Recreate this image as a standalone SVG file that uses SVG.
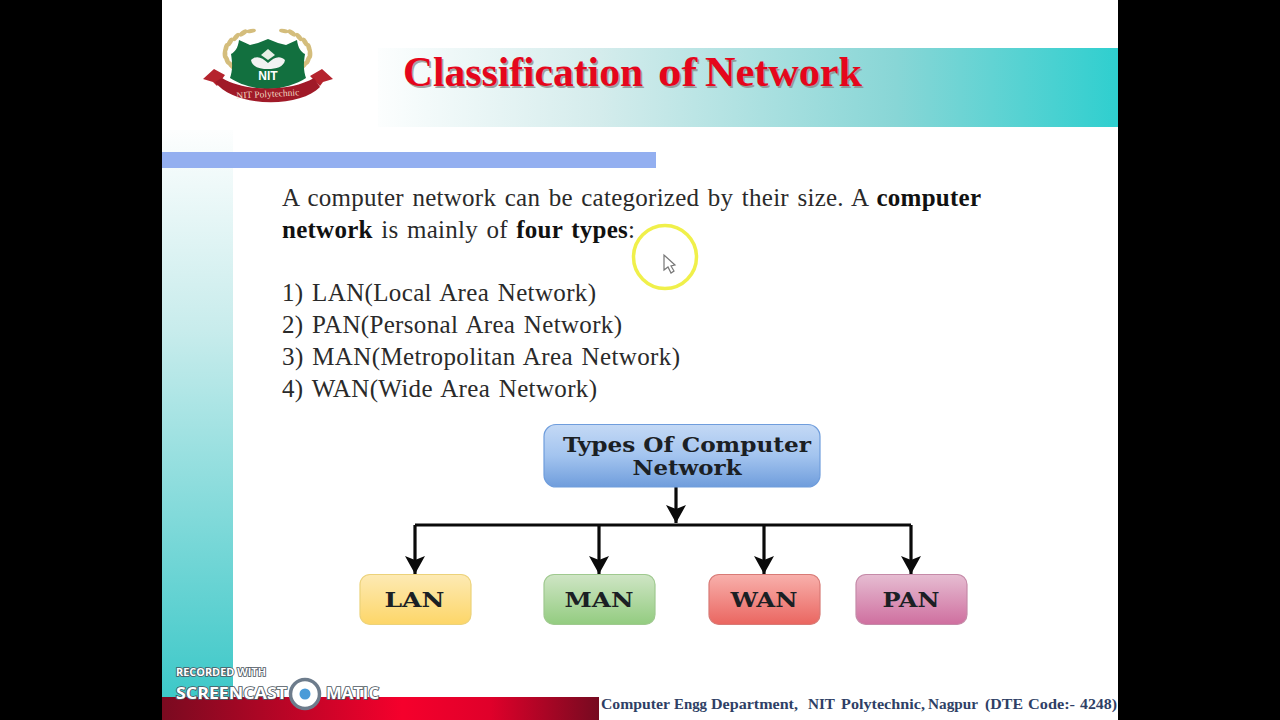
<svg xmlns="http://www.w3.org/2000/svg" width="1280" height="720" viewBox="0 0 1280 720">
<style>
.body{font-family:"Liberation Serif",serif;font-size:25px;fill:#2a2a2a;word-spacing:2px;}
.b{font-weight:bold;fill:#111;}
.lbl{font-family:"DejaVu Serif",serif;font-weight:bold;font-size:20px;fill:#1b2024;text-anchor:middle;}
.node{stroke-width:1.2;}
.conn{stroke:#0a0a0a;stroke-width:3.2;fill:none;stroke-linejoin:round;}
.wm{font-family:"Open Sans",sans-serif;font-weight:bold;fill:#fff;stroke:#4c5660;stroke-width:1.600px;paint-order:stroke;}
.leaf{fill:#d4bd7c;}
.ttl{font-family:"Liberation Serif",serif;font-weight:bold;font-size:42px;}
.ft{font-family:"Liberation Serif",serif;font-weight:bold;font-size:15px;fill:#2f3f66;}
</style>
<defs>
<linearGradient id="hd" x1="0" x2="1" y1="0" y2="0"><stop offset="0" stop-color="#fcfefe"/><stop offset=".3" stop-color="#d4ecec"/><stop offset=".7" stop-color="#88d6d6"/><stop offset="1" stop-color="#2fcfcf"/></linearGradient>
<linearGradient id="side" x1="0" x2="0" y1="0" y2="1"><stop offset="0" stop-color="#fdfefe"/><stop offset=".35" stop-color="#c8ecec"/><stop offset="1" stop-color="#3cc8c8"/></linearGradient>
<linearGradient id="red" x1="0" x2="1" y1="0" y2="0"><stop offset="0" stop-color="#7a0a20"/><stop offset=".55" stop-color="#f5002c"/><stop offset=".75" stop-color="#e0002a"/><stop offset="1" stop-color="#760a20"/></linearGradient>
<linearGradient id="gB" x1="0" x2="0" y1="0" y2="1"><stop offset="0" stop-color="#c4d9f5"/><stop offset=".5" stop-color="#a3c4ef"/><stop offset="1" stop-color="#6f9ddc"/></linearGradient>
<linearGradient id="gY" x1="0" x2="0" y1="0" y2="1"><stop offset="0" stop-color="#fdeab4"/><stop offset="1" stop-color="#fdd668"/></linearGradient>
<linearGradient id="gG" x1="0" x2="0" y1="0" y2="1"><stop offset="0" stop-color="#cfe5c5"/><stop offset="1" stop-color="#93cc80"/></linearGradient>
<linearGradient id="gR" x1="0" x2="0" y1="0" y2="1"><stop offset="0" stop-color="#f8b0ac"/><stop offset="1" stop-color="#ea6660"/></linearGradient>
<linearGradient id="gP" x1="0" x2="0" y1="0" y2="1"><stop offset="0" stop-color="#e6bdd2"/><stop offset="1" stop-color="#cf6f9f"/></linearGradient>
<marker id="arr" markerUnits="userSpaceOnUse" markerWidth="24" markerHeight="24" refX="20" refY="12" orient="auto" viewBox="0 0 24 24"><path d="M2 2 L6 12 L2 22 L20 12 Z" fill="#0a0a0a"/></marker>
<g id="laurel">
<ellipse class="leaf" cx="251" cy="31" rx="5" ry="2" transform="rotate(-10 251 31)"/>
<ellipse class="leaf" cx="243" cy="33" rx="5" ry="2.400" transform="rotate(-35 243 33)"/>
<ellipse class="leaf" cx="236" cy="37" rx="5" ry="2.400" transform="rotate(-50 236 37)"/>
<ellipse class="leaf" cx="230" cy="42" rx="5" ry="2.400" transform="rotate(-60 230 42)"/>
<ellipse class="leaf" cx="226" cy="48" rx="5" ry="2.400" transform="rotate(-75 226 48)"/>
<ellipse class="leaf" cx="225" cy="54" rx="5" ry="2.400" transform="rotate(-90 225 54)"/>
<ellipse class="leaf" cx="227" cy="60" rx="5" ry="2.400" transform="rotate(70 227 60)"/>
<ellipse class="leaf" cx="231" cy="65" rx="5" ry="2.400" transform="rotate(50 231 65)"/>
</g>
</defs>
<rect width="1280" height="720" fill="#000"/>
<rect x="162" y="0" width="956" height="720" fill="#fff"/>
<rect x="162" y="130" width="71" height="570" fill="url(#side)"/>
<rect x="378" y="48" width="740" height="79" fill="url(#hd)"/>
<rect x="162" y="152" width="494" height="16" fill="#93aff0"/>

<g id="logo">
<use href="#laurel"/>
<use href="#laurel" transform="translate(535 0) scale(-1 1)"/>
<path d="M239 40 L250 45 L258 43 L268 39 L278 43 L286 45 L297 40 C298 48 301 52 305 54 C303 66 304 72 306 78 C297 84 282 89 268 89 C254 89 239 84 230 78 C232 72 233 66 231 54 C235 52 238 48 239 40 Z" fill="#12703f"/>
<path d="M251 60 C256 55 262 57 268 63 C274 57 280 55 285 60 C284 67 276 69 268 69 C260 69 252 67 251 60 Z" fill="#f2f2f2"/>
<path d="M261 55 L268 49 L275 55 L268 60 Z" fill="#e8efe6"/>
<text x="268" y="80" font-family="'Liberation Sans',sans-serif" font-weight="bold" font-size="12" fill="#fff" text-anchor="middle">NIT</text>
<path d="M203 79 L214 69 L225 75 L217 86 L213 82 Z" fill="#b5232d"/>
<path d="M333 79 L322 69 L310 76 L320 86 L323 82 Z" fill="#b5232d"/>
<path d="M215 82 L222 78 C245 92 290 92 314 78 L320 87 C300 108 235 108 215 82 Z" fill="#a01a28"/>
<text x="268" y="97" font-family="'Liberation Serif',serif" font-size="9.500" fill="#f0d8c0" text-anchor="middle" transform="rotate(-3 268 97)">NIT Polytechnic</text>
</g>

<g id="title">
<g class="ttl" fill="#888" opacity=".75" transform="translate(1.500 1.500)">
<text x="403" y="86" textLength="240" lengthAdjust="spacingAndGlyphs">Classification</text>
<text x="658" y="86" textLength="39" lengthAdjust="spacingAndGlyphs">of</text>
<text x="705" y="86" textLength="157" lengthAdjust="spacingAndGlyphs">Network</text>
</g>
<g class="ttl" fill="#e5061c">
<text x="403" y="86" textLength="240" lengthAdjust="spacingAndGlyphs">Classification</text>
<text x="658" y="86" textLength="39" lengthAdjust="spacingAndGlyphs">of</text>
<text x="705" y="86" textLength="157" lengthAdjust="spacingAndGlyphs">Network</text>
</g>
</g>

<text class="body" x="282" y="205.500" textLength="699" lengthAdjust="spacing">A computer network can be categorized by their size. A <tspan class="b">computer</tspan></text>
<text class="body" x="282" y="237.500" textLength="353" lengthAdjust="spacing"><tspan class="b">network</tspan> is mainly of <tspan class="b">four types</tspan>:</text>
<text class="body" x="282" y="301" textLength="314" lengthAdjust="spacing">1) LAN(Local Area Network)</text>
<text class="body" x="282" y="333" textLength="340" lengthAdjust="spacing">2) PAN(Personal Area Network)</text>
<text class="body" x="282" y="365" textLength="398" lengthAdjust="spacing">3) MAN(Metropolitan Area Network)</text>
<text class="body" x="282" y="397" textLength="315" lengthAdjust="spacing">4) WAN(Wide Area Network)</text>

<g id="cursor">
<circle cx="665" cy="257" r="31.500" fill="#fff" fill-opacity=".3" stroke="#f0f04a" stroke-width="3.500"/>
<path d="M664 255 L664 270 L668 267 L671 273 L674 271 L671 266 L675 265 Z" fill="#fff" stroke="#777" stroke-width="1.200"/>
</g>

<g id="connectors">
<path class="conn" d="M676 487 V523" marker-end="url(#arr)"/>
<path class="conn" d="M415 525 H911"/>
<path class="conn" d="M415 525 V574" marker-end="url(#arr)"/>
<path class="conn" d="M599 525 V574" marker-end="url(#arr)"/>
<path class="conn" d="M764 525 V574" marker-end="url(#arr)"/>
<path class="conn" d="M911 525 V574" marker-end="url(#arr)"/>
</g>

<g id="node-types"><rect class="node" x="544" y="424.500" width="276" height="62.500" rx="12" fill="url(#gB)" stroke="#6f9ddc"/>
<text class="lbl" x="687" y="452" textLength="248" lengthAdjust="spacingAndGlyphs">Types Of Computer</text><text class="lbl" x="687" y="475" textLength="109" lengthAdjust="spacingAndGlyphs">Network</text></g>
<g id="node-lan"><rect class="node" x="360" y="574.500" width="111" height="50" rx="10" fill="url(#gY)" stroke="#ecd27a"/><text class="lbl" x="414.500" y="607" textLength="60" lengthAdjust="spacingAndGlyphs">LAN</text></g>
<g id="node-man"><rect class="node" x="544" y="574.500" width="111" height="50" rx="10" fill="url(#gG)" stroke="#9fc98f"/><text class="lbl" x="599" y="607" textLength="69" lengthAdjust="spacingAndGlyphs">MAN</text></g>
<g id="node-wan"><rect class="node" x="709" y="574.500" width="111" height="50" rx="10" fill="url(#gR)" stroke="#d87a76"/><text class="lbl" x="764" y="607" textLength="67" lengthAdjust="spacingAndGlyphs">WAN</text></g>
<g id="node-pan"><rect class="node" x="856" y="574.500" width="111" height="50" rx="10" fill="url(#gP)" stroke="#c58aa8"/><text class="lbl" x="911" y="607" textLength="57" lengthAdjust="spacingAndGlyphs">PAN</text></g>

<rect x="162" y="697" width="437" height="23" fill="url(#red)"/>
<g id="footer" class="ft">
<text x="601" y="709" textLength="69" lengthAdjust="spacingAndGlyphs">Computer</text>
<text x="674" y="709" textLength="33" lengthAdjust="spacingAndGlyphs">Engg</text>
<text x="711" y="709" textLength="87" lengthAdjust="spacingAndGlyphs">Department,</text>
<text x="808" y="709" textLength="27" lengthAdjust="spacingAndGlyphs">NIT</text>
<text x="841" y="709" textLength="84" lengthAdjust="spacingAndGlyphs">Polytechnic,</text>
<text x="928" y="709" textLength="50" lengthAdjust="spacingAndGlyphs">Nagpur</text>
<text x="985" y="709" textLength="38" lengthAdjust="spacingAndGlyphs">(DTE</text>
<text x="1028" y="709" textLength="47" lengthAdjust="spacingAndGlyphs">Code:-</text>
<text x="1080" y="709" textLength="37" lengthAdjust="spacingAndGlyphs">4248)</text>
</g>

<g id="watermark">
<text class="wm" x="176" y="676" font-size="10.500" textLength="90" lengthAdjust="spacingAndGlyphs">RECORDED WITH</text>
<text class="wm" x="176" y="699" font-size="15.500" textLength="111" lengthAdjust="spacingAndGlyphs">SCREENCAST</text>
<circle cx="305" cy="694" r="14.500" fill="#fff" stroke="#6d7c8c" stroke-width="3.500"/>
<circle cx="305" cy="694" r="5.500" fill="#4a9bd8"/>
<text class="wm" x="326" y="699" font-size="15.500" textLength="53" lengthAdjust="spacingAndGlyphs">MATIC</text>
</g>
</svg>
